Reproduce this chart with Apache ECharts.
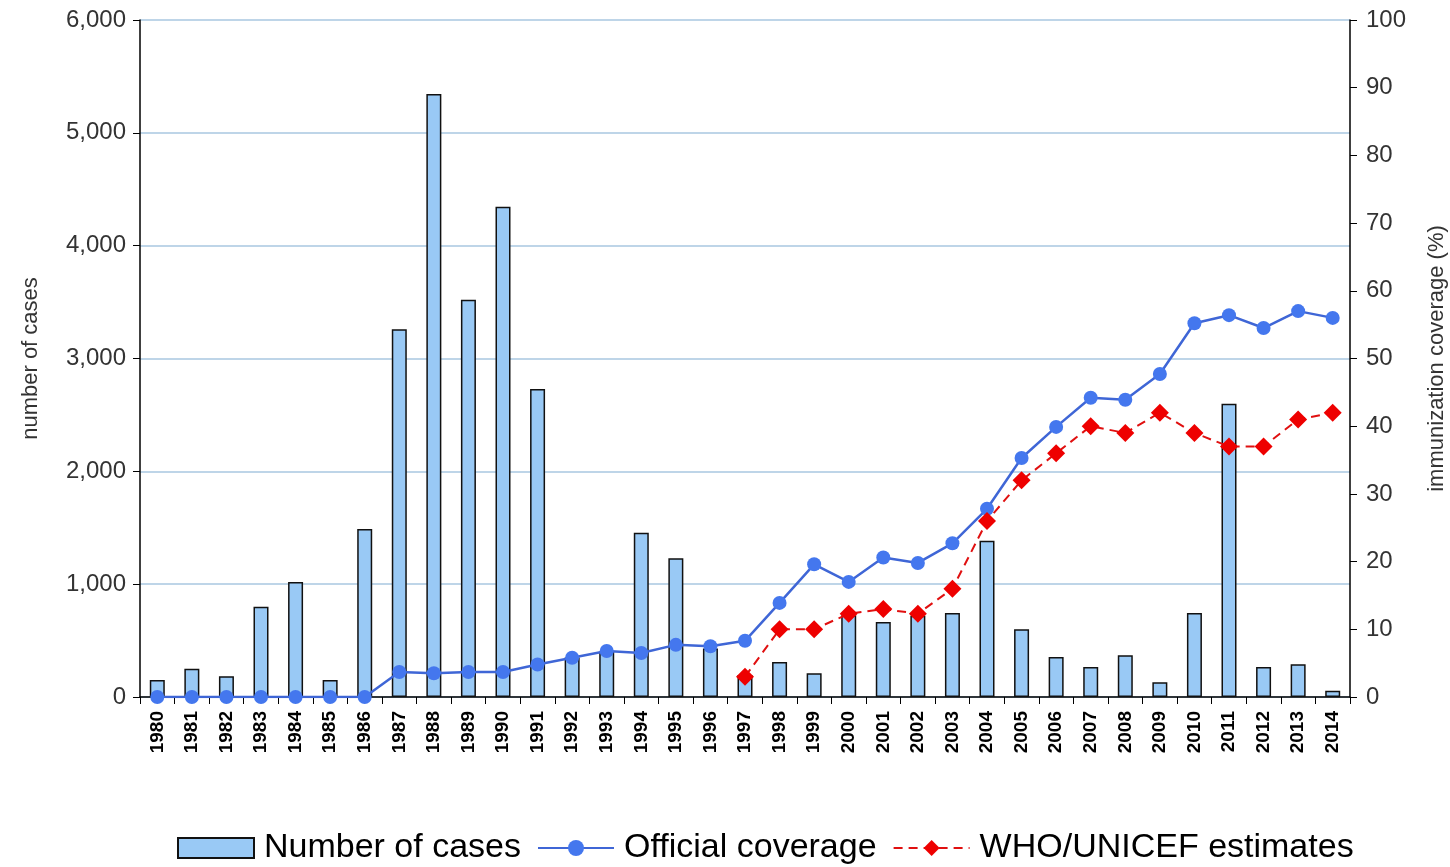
<!DOCTYPE html>
<html>
<head>
<meta charset="utf-8">
<title>Cases and immunization coverage</title>
<script src="https://cdn.jsdelivr.net/npm/echarts@6/dist/echarts.min.js"></script>
<style>
  html, body { margin: 0; padding: 0; background: #fff; }
  #chart { width: 1450px; height: 867px; }
</style>
</head>
<body>
<div id="chart"></div>
<script>
  // years on the x axis
  const years = ['1980', '1981', '1982', '1983', '1984', '1985', '1986', '1987', '1988', '1989',
    '1990', '1991', '1992', '1993', '1994', '1995', '1996', '1997', '1998', '1999',
    '2000', '2001', '2002', '2003', '2004', '2005', '2006', '2007', '2008', '2009',
    '2010', '2011', '2012', '2013', '2014']

  // number of cases (left axis)
  const cases = [150, 250, 185, 800, 1020, 150, 1490, 3260, 5345, 3520,
    4345, 2730, 350, 400, 1455, 1230, 430, 195, 310, 210,
    725, 665, 720, 745, 1385, 600, 355, 265, 370, 130,
    745, 2600, 265, 290, 55]

  // official coverage, % (right axis)
  const official = [0, 0, 0, 0, 0, 0, 0, 3.7, 3.5, 3.7,
    3.7, 4.8, 5.8, 6.8, 6.5, 7.7, 7.5, 8.3, 13.9, 19.6,
    17, 20.6, 19.8, 22.7, 27.8, 35.3, 39.9, 44.2, 43.9, 47.7,
    55.2, 56.4, 54.5, 57, 56]

  // WHO/UNICEF estimates, % (right axis), none before 1997
  const whoUnicef = [null, null, null, null, null, null, null, null, null, null,
    null, null, null, null, null, null, null, 3, 10, 10,
    12.3, 13, 12.3, 16, 26, 32, 36, 40, 39, 42,
    39, 37, 37, 41, 42]

  const chart = echarts.init(document.getElementById('chart'))

  chart.setOption({
    animation: false,
    textStyle: { fontFamily: 'Liberation Sans, Arial, sans-serif' },
    grid: {
      left: 140,
      right: 100,
      top: 20,
      bottom: 170,
      outerBoundsMode: 'none'
    },
    legend: {
      top: 826,
      left: 172,
      itemWidth: 76,
      itemHeight: 20,
      itemGap: 16,
      textStyle: { fontSize: 34, color: '#000', padding: [0, 0, 0, 5] },
      data: [
        { name: 'Number of cases', icon: 'rect' },
        { name: 'Official coverage' },
        { name: 'WHO/UNICEF estimates' }
      ]
    },
    xAxis: {
      type: 'category',
      data: years,
      boundaryGap: true,
      axisLine: { lineStyle: { color: '#000', width: 1.5 } },
      axisTick: { show: true, length: 7, lineStyle: { color: '#000' } },
      axisLabel: {
        rotate: 90,
        fontSize: 19,
        fontWeight: 'bold',
        color: '#000',
        margin: 14
      }
    },
    yAxis: [
      {
        type: 'value',
        min: 0,
        max: 6000,
        interval: 1000,
        name: 'number of cases',
        nameLocation: 'middle',
        nameGap: 98,
        nameTextStyle: { fontSize: 22, color: '#333' },
        axisLine: { show: true, lineStyle: { color: '#000', width: 1.5 } },
        axisTick: { show: true, length: 7, lineStyle: { color: '#000' } },
        axisLabel: {
          fontSize: 24,
          color: '#333',
          margin: 14,
          formatter: v => v.toLocaleString('en-US')
        },
        splitLine: { lineStyle: { color: '#a9c7e0', width: 1.5 } }
      },
      {
        type: 'value',
        min: 0,
        max: 100,
        interval: 10,
        name: 'immunization coverage (%)',
        nameLocation: 'middle',
        nameGap: 76,
        nameRotate: 90,
        nameTextStyle: { fontSize: 22, color: '#333' },
        axisLine: { show: true, lineStyle: { color: '#000', width: 1.5 } },
        axisTick: { show: true, length: 7, lineStyle: { color: '#000' } },
        axisLabel: { fontSize: 24, color: '#333', margin: 16 },
        splitLine: { show: false }
      }
    ],
    series: [
      {
        name: 'Number of cases',
        type: 'bar',
        yAxisIndex: 0,
        barWidth: 15,
        itemStyle: {
          color: '#99c9f5',
          borderColor: '#111',
          borderWidth: 1.5
        },
        data: cases
      },
      {
        name: 'Official coverage',
        type: 'line',
        yAxisIndex: 1,
        symbol: 'circle',
        symbolSize: 14,
        lineStyle: { color: '#3f66d6', width: 2.5 },
        itemStyle: { color: '#4477ee' },
        data: official
      },
      {
        name: 'WHO/UNICEF estimates',
        type: 'line',
        yAxisIndex: 1,
        symbol: 'diamond',
        symbolSize: 18,
        connectNulls: false,
        lineStyle: { color: '#e01010', width: 2, type: [9, 6] },
        itemStyle: { color: '#ee0000' },
        data: whoUnicef
      }
    ]
  })
</script>
</body>
</html>
